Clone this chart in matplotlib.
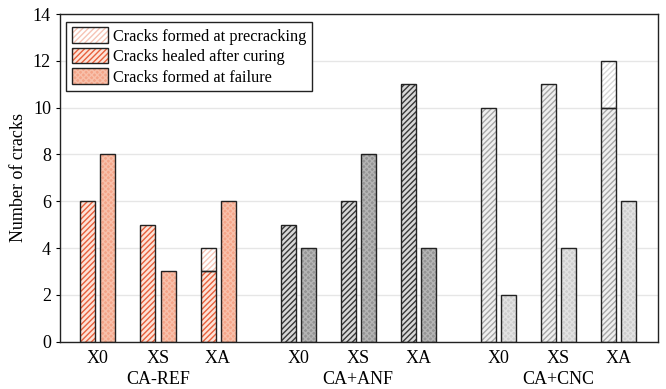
import numpy as np
from matplotlib import pyplot as plt
from matplotlib import transforms
from matplotlib.patches import Patch

plt.rcParams['font.family'] = ['Liberation Serif', 'DejaVu Serif']
plt.rcParams['hatch.linewidth'] = 1.0

# data
groups = ["CA-REF", "CA+ANF", "CA+CNC"]
configs = ["X0", "XS", "XA"]
healed = [[6, 5, 3], [5, 6, 11], [10, 11, 10]]
precrack_extra = [[0, 0, 1], [0, 0, 0], [0, 0, 2]]
failure = [[8, 3, 6], [4, 8, 4], [2, 4, 6]]

# colours per group: (healed bg, healed hatch, precrack hatch, failure bg, failure hatch)
styles = [
    ("#fde3d8", "#e8603c", "#f6c4b6", "#f4a488", "#f8c0aa"),
    ("#d8d8d8", "#383838", "#c0c0c0", "#949494", "#b4b4b4"),
    ("#f0f0f0", "#a8a8a8", "#d8d8d8", "#cdcdcd", "#e2e2e2"),
]

group_gap = 10 / 3
width = 0.25
off = 0.167

fig = plt.figure(figsize=(6.66, 3.89), dpi=100)
ax = fig.add_axes([0.090, 0.1216, 0.898, 0.8424])


def hbar(x, h, bottom, face, hcol, hatch):
    ax.bar(x, h, width, bottom=bottom, color=face, edgecolor=hcol, hatch=hatch,
           linewidth=0, zorder=2)
    ax.bar(x, h, width, bottom=bottom, fill=False, edgecolor="#222222",
           linewidth=1.0, zorder=3)


xticks = []
xlabels = []
for g in range(3):
    hb, hh, ph, fb, fh = styles[g]
    for c in range(3):
        x = g * group_gap + c
        xticks.append(x)
        xlabels.append(configs[c])
        hbar(x - off, healed[g][c], 0, hb, hh, "//////")
        if precrack_extra[g][c] > 0:
            hbar(x - off, precrack_extra[g][c], healed[g][c], "white", ph, "//////")
        hbar(x + off, failure[g][c], 0, fb, fh, "xxxxxx")

# legend uses the CA-REF colours
hb, hh, ph, fb, fh = styles[0]
handles = [
    (Patch(facecolor="white", edgecolor=ph, hatch="//////", linewidth=0),
     Patch(fill=False, edgecolor="#222222", linewidth=1)),
    (Patch(facecolor=hb, edgecolor=hh, hatch="//////", linewidth=0),
     Patch(fill=False, edgecolor="#222222", linewidth=1)),
    (Patch(facecolor=fb, edgecolor=fh, hatch="xxxxxx", linewidth=0),
     Patch(fill=False, edgecolor="#222222", linewidth=1)),
]
leg = ax.legend(handles, ["Cracks formed at precracking", "Cracks healed after curing",
                          "Cracks formed at failure"],
                loc="upper left", bbox_to_anchor=(0.008, 0.982), fontsize=11.7,
                fancybox=False, framealpha=1, edgecolor="#222222",
                handlelength=2.2, handleheight=1.1, handletextpad=0.3,
                labelspacing=0.2, borderpad=0.35, borderaxespad=0.1)
leg.get_frame().set_linewidth(1.0)

ax.set_xlim(-0.633, 2 * group_gap + 2 + 0.66)
ax.set_ylim(0, 14)
ax.set_yticks(np.arange(0, 15, 2))
ax.set_xticks(xticks)
ax.set_xticklabels(xlabels, fontsize=13)
ax.tick_params(axis="x", length=0, pad=6)
ax.tick_params(axis="y", labelsize=13, length=3, direction="out")
ax.set_ylabel("Number of cracks", fontsize=13)
ax.grid(axis="y", color="#e6e6e6", linewidth=1, zorder=0)
ax.set_axisbelow(True)
for s in ax.spines.values():
    s.set_linewidth(1.0)
    s.set_color("#222222")

trans = transforms.blended_transform_factory(ax.transData, ax.transAxes)
for g in range(3):
    ax.text(g * group_gap + 1, -0.115, groups[g], transform=trans, ha="center",
            va="center", fontsize=13)

fig.savefig("out.png", dpi=100)
